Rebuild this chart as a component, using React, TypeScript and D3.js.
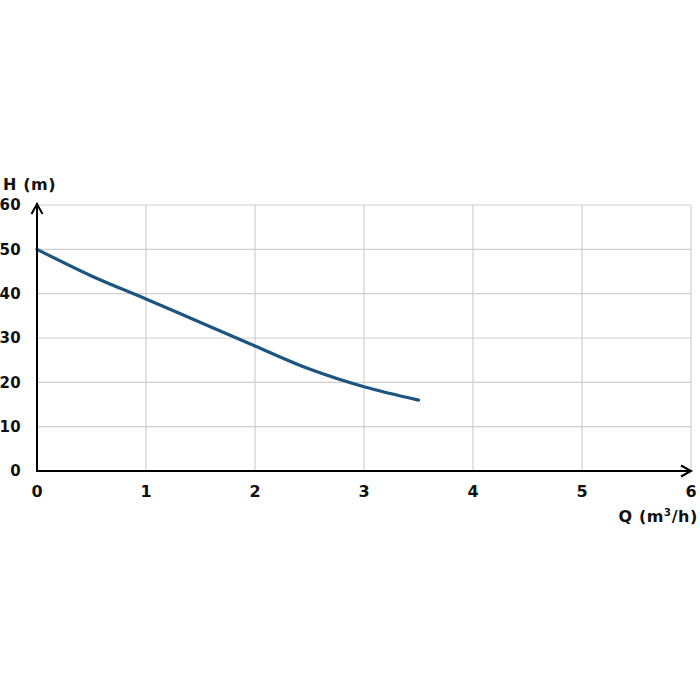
import React from "react";
import * as d3 from "d3";

const flowQ = [0, 0.5, 1, 1.5, 2, 2.5, 3, 3.5];
const headH = [50, 44.0, 38.8, 33.5, 28.2, 23.0, 19.0, 16.0];
const xTicks = [0, 1, 2, 3, 4, 5, 6];
const yTicks = [0, 10, 20, 30, 40, 50, 60];
const xTitle = "Q (m";
const yTitle = "H (m)";

export default function App() {
  const W = 700, H = 700;
  const x = d3.scaleLinear().domain([0, 6]).range([37, 691]);
  const y = d3.scaleLinear().domain([0, 60]).range([471, 205]);
  const line = d3.line<number>().x((_, i) => x(flowQ[i])).y((d) => y(d)).curve(d3.curveCatmullRom);
  const font = "'DejaVu Sans', sans-serif";
  const x0 = x(0), y0 = y(0);
  return (
    <svg width={W} height={H} style={{ position: "absolute", left: 0, top: 0, background: "#fff" }}>
      {yTicks.filter((t) => t > 0).map((t) => (
        <line key={"h" + t} x1={x0} x2={x(6)} y1={y(t)} y2={y(t)} stroke="#cfcfcf" strokeWidth={1.2} />
      ))}
      {xTicks.filter((t) => t > 0).map((t) => (
        <line key={"v" + t} x1={x(t)} x2={x(t)} y1={y(60)} y2={y0} stroke="#cfcfcf" strokeWidth={1.2} />
      ))}
      <path d={line(headH) || ""} fill="none" stroke="#1d5580" strokeWidth={3.2} strokeLinecap="round" />
      <line x1={x0} x2={x0} y1={y0 + 1} y2={203} stroke="#000" strokeWidth={2} />
      <line x1={x0 - 1} x2={x(6)} y1={y0} y2={y0} stroke="#000" strokeWidth={2} />
      <polyline points={`${x0 - 5.5},${214} ${x0},${204} ${x0 + 5.5},${214}`} fill="none" stroke="#000" strokeWidth={2} />
      <polyline points={`${x(6) - 10},${y0 - 5.5} ${x(6)},${y0} ${x(6) - 10},${y0 + 5.5}`} fill="none" stroke="#000" strokeWidth={2} />
      {yTicks.map((t) => (
        <text key={"yl" + t} x={21} y={y(t)} dy="0.36em" textAnchor="end" fontFamily={font} fontWeight="bold" fontSize={15} letterSpacing={0.3} fill="#111">
          {t}
        </text>
      ))}
      {xTicks.map((t) => (
        <text key={"xl" + t} x={x(t)} y={497} textAnchor="middle" fontFamily={font} fontWeight="bold" fontSize={16} fill="#111">
          {t}
        </text>
      ))}
      <text x={3} y={190} fontFamily={font} fontWeight="bold" fontSize={16} letterSpacing={0.6} fill="#111">{yTitle}</text>
      <text x={698} y={522} textAnchor="end" fontFamily={font} fontWeight="bold" fontSize={16} letterSpacing={0.6} fill="#111">
        {xTitle}
        <tspan fontSize={10} dy={-6}>3</tspan>
        <tspan dy={6}>/h)</tspan>
      </text>
    </svg>
  );
}
